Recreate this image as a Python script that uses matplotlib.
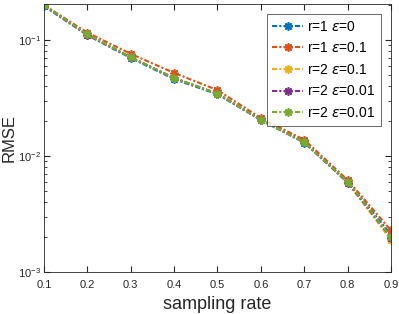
import matplotlib
matplotlib.use('Agg')
import matplotlib.pyplot as plt
from matplotlib.ticker import LogLocator

rates = [0.1, 0.2, 0.3, 0.4, 0.5, 0.6, 0.7, 0.8, 0.9]
rmse_r1_e0 = [0.196, 0.110, 0.070, 0.046, 0.0340, 0.0204, 0.0130, 0.0060, 0.00210]
rmse_r1_e01 = [0.200, 0.116, 0.076, 0.052, 0.0370, 0.0212, 0.0138, 0.0062, 0.00228]
rmse_r2_e01 = [0.199, 0.111, 0.071, 0.047, 0.0345, 0.0205, 0.0131, 0.0059, 0.00188]
rmse_r2_e001a = [0.199, 0.111, 0.071, 0.047, 0.0345, 0.0205, 0.0131, 0.0059, 0.00198]
rmse_r2_e001b = [0.200, 0.112, 0.071, 0.047, 0.0345, 0.0205, 0.0131, 0.0060, 0.00200]
labels = [r'r=1 $\epsilon$=0', r'r=1 $\epsilon$=0.1', r'r=2 $\epsilon$=0.1',
          r'r=2 $\epsilon$=0.01', r'r=2 $\epsilon$=0.01']
colors = ['#0072BD', '#D95319', '#EDB120', '#7E2F8E', '#77AC30']

plt.rcParams['font.family'] = ['Liberation Sans', 'DejaVu Sans']
plt.rcParams['mathtext.fontset'] = 'dejavusans'

fig = plt.figure(figsize=(3.99, 3.14), dpi=100)
ax = fig.add_axes([0.110, 0.134, 0.870, 0.853])

series = [rmse_r1_e0, rmse_r1_e01, rmse_r2_e01, rmse_r2_e001a, rmse_r2_e001b]
for vals, lab, c in zip(series, labels, colors):
    ax.plot(rates, vals, linestyle=(0, (2.5, 1, 1, 1)), color=c, linewidth=1.5,
            marker=(8, 2, 0), markersize=6, markeredgewidth=1.2, label=lab)

ax.set_yscale('log')
ax.set_xlim(0.1, 0.9)
ax.set_ylim(1e-3, 0.204)
ax.set_xticks(rates)
ax.set_xticklabels([f'{r:.1f}' for r in rates])
ax.yaxis.set_major_locator(LogLocator(base=10, numticks=10))
ax.yaxis.set_minor_locator(LogLocator(base=10, subs=range(2, 10), numticks=10))
ax.tick_params(which='both', direction='in', top=True, right=True,
               colors='#262626', labelsize=8, labelcolor='#262626')
ax.tick_params(axis='x', pad=6)
ax.tick_params(axis='y', pad=2)
ax.tick_params(which='major', length=4)
ax.tick_params(which='minor', length=2)
for s in ax.spines.values():
    s.set_color('#262626')
    s.set_linewidth(0.6)

ax.set_xlabel('sampling rate', fontsize=13, color='#262626', labelpad=4)
ax.set_ylabel('RMSE', fontsize=12, color='#262626')
ax.yaxis.set_label_coords(-0.078, 0.5)

leg = ax.legend(loc='upper right', bbox_to_anchor=(0.971, 0.963), fontsize=10,
                fancybox=False, edgecolor='#262626', handlelength=2.2,
                handletextpad=0.3, labelspacing=0.55, borderpad=0.4,
                borderaxespad=0.0)
leg.get_frame().set_linewidth(0.6)

fig.savefig('out.png', dpi=100)
